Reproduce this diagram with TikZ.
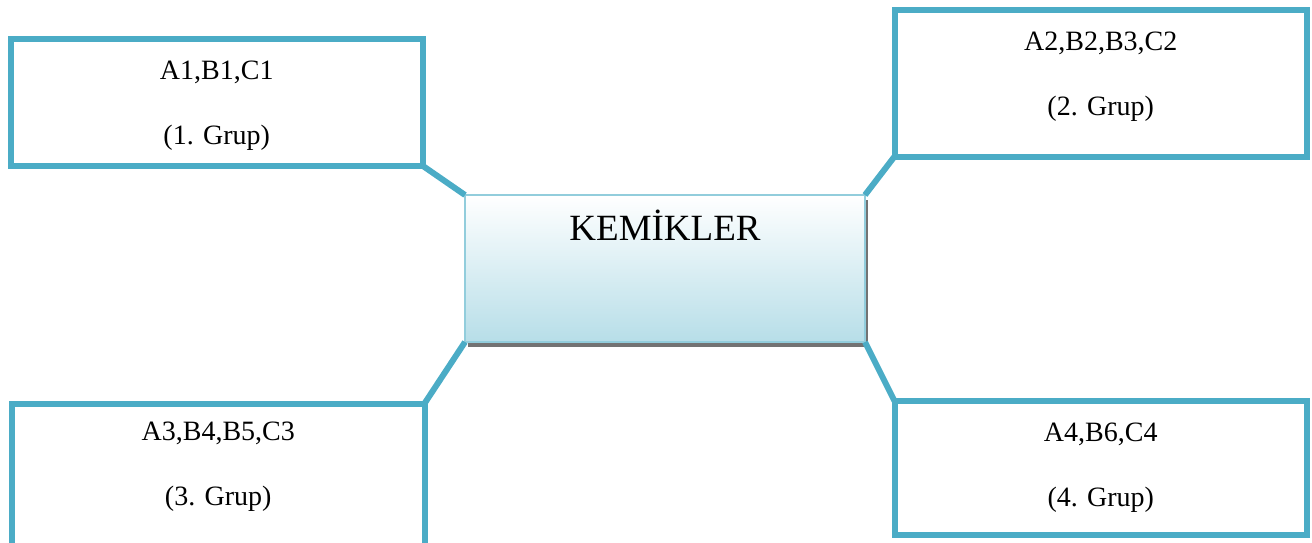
\documentclass[tikz,border=0pt]{standalone}
\usepackage{fontspec}
\setmainfont{Liberation Serif}
\usetikzlibrary{positioning,shadows}
\definecolor{grpblue}{RGB}{75,172,198}
\definecolor{kemline}{RGB}{146,205,220}
\definecolor{kemfill}{RGB}{183,222,232}
\begin{document}
\begin{tikzpicture}[x=0.5pt,y=-0.5pt,node distance=11pt,
  grpbox/.style={draw=grpblue,line width=3pt,anchor=north west,outer sep=0pt,minimum width=206.25pt},
  grptext/.style={align=center,inner sep=0pt,font=\fontsize{14}{16.8}\selectfont},
  kembox/.style={draw=kemline,line width=0.8pt,anchor=north west,outer sep=0pt,minimum width=200pt,
    top color=white,bottom color=kemfill,font=\fontsize{18.5}{22}\selectfont,
    text height=12pt,text depth=40.5pt,inner ysep=10.5pt,
    drop shadow={shadow xshift=1.5pt,shadow yshift=-2.5pt,fill=black!55,opacity=1}},
  link/.style={draw=grpblue,line width=3pt}]
\useasboundingbox (0,0) rectangle (1312,542);
\clip (0,0) rectangle (1312,542);
\node[kembox] (kem) at (465,195) {KEMİKLER};
\node[grpbox,minimum height=63.75pt] (b1) at (10.5,38.5) {};
\node[grpbox,minimum height=73.25pt] (b2) at (894.5,10) {};
\node[grpbox,minimum height=80pt] (b3) at (12,403.5) {};
\node[grpbox,minimum height=66.75pt] (b4) at (894.5,401) {};
\node[grptext,below=of b1.north] (t1) {A1,B1,C1\\[15.7pt](1. Grup)};
\node[grptext,below=of b2.north] (t2) {A2,B2,B3,C2\\[15.7pt](2. Grup)};
\node[grptext,below=9pt of b3.north] (t3) {A3,B4,B5,C3\\[15.7pt](3. Grup)};
\node[grptext,below=of b4.north] (t4) {A4,B6,C4\\[15.7pt](4. Grup)};
\draw[link] (b1.south east) -- (kem.north west);
\draw[link] (b2.south west) -- (kem.north east);
\draw[link] (b3.north east) -- (kem.south west);
\draw[link] (b4.north west) -- (kem.south east);
\end{tikzpicture}
\end{document}
